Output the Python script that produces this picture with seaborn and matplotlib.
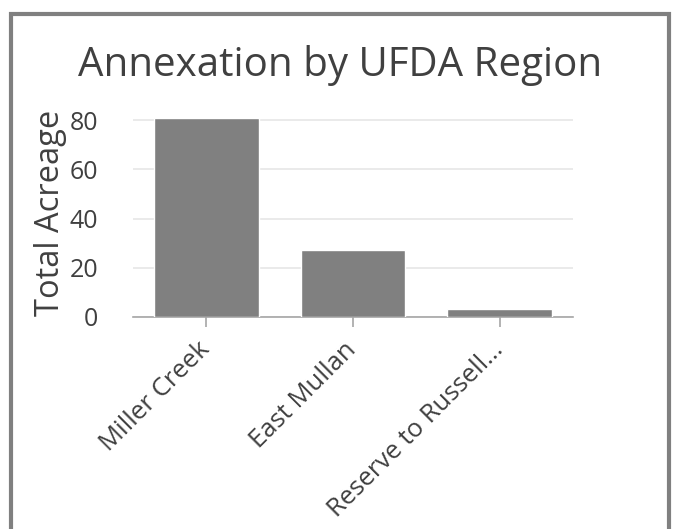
import matplotlib
matplotlib.use("Agg")
import matplotlib.pyplot as plt
import seaborn as sns
import pandas as pd
from matplotlib.patches import Rectangle

regions = ["Miller Creek", "East Mullan", "Reserve to Russell..."]
acreage = [81.0, 27.3, 3.3]
y_ticks = [0, 20, 40, 60, 80]

sns.set_theme(style="white")
plt.rcParams['font.family'] = ['Open Sans', 'DejaVu Sans']

df = pd.DataFrame({"region": regions, "acreage": acreage})

fig = plt.figure(figsize=(6.74, 5.29), dpi=100)
W, H = 674, 529

# outer frame
fig.patches.append(Rectangle((11 / W, -0.1), (669 - 11) / W, 1.1 - 14 / H,
                             transform=fig.transFigure, fill=False,
                             edgecolor="#808080", linewidth=3))

ax = fig.add_axes([133 / W, 212 / H, (573 - 133) / W, (421 - 212) / H])
sns.barplot(data=df, x="region", y="acreage", color="#808080", saturation=1,
            width=0.714, ax=ax, zorder=3)
ax.set_xlim(-0.5, 2.5)
ax.set_ylim(0, 85)
ax.set_yticks(y_ticks)
ax.yaxis.grid(True, color="#e6e6e6", linewidth=1.2, zorder=0)
for s in ["top", "right", "left"]:
    ax.spines[s].set_visible(False)
ax.spines["bottom"].set_color("#a6a6a6")
ax.spines["bottom"].set_linewidth(1.2)
ax.tick_params(axis="x", bottom=True, length=7, width=1.2, color="#a6a6a6",
               labelsize=18.5, labelcolor="#404040", pad=14)
ax.tick_params(axis="y", left=False, labelsize=18, labelcolor="#404040", pad=19)
plt.setp(ax.get_xticklabels(), rotation=45, ha="right", va="center",
         rotation_mode="anchor")
ax.set_xlabel("")
ax.set_ylabel("Total Acreage", fontsize=23.5, color="#404040", labelpad=2)

fig.text(340 / W, 1 - 65 / H, "Annexation by UFDA Region", ha="center", va="center",
         fontsize=29, color="#404040")

fig.savefig("out.png", dpi=100)
